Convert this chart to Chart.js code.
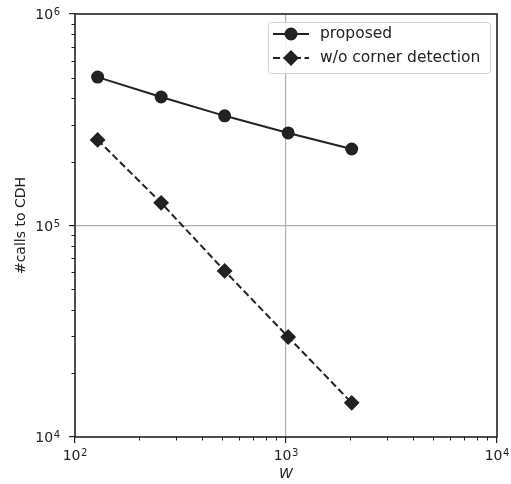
<!DOCTYPE html>
<html>
<head>
<meta charset="utf-8">
<script src="https://cdn.jsdelivr.net/npm/chart.js@4/dist/chart.umd.min.js"></script>
<style>
  html, body { margin: 0; padding: 0; background: #fff; }
  #wrap { width: 511px; height: 484px; }
</style>
</head>
<body>
<div id="wrap"><canvas id="chart"></canvas></div>
<script>
// Values
const windowSizes = [128, 256, 512, 1024, 2048];
const proposedCalls = [503000, 405000, 330000, 274000, 230000];
const noCornerCalls = [254000, 128000, 61000, 29700, 14500];
const seriesLabels = ['proposed', 'w/o corner detection'];
const xDecades = [100, 1000, 10000];
const yDecades = [10000, 100000, 1000000];

const ink = '#222222';
const font = 'DejaVu Sans';

function points(ys)
{
    return windowSizes.map((x, i) => ({ x: x, y: ys[i] }));
}

// Gray grid only on inner decades
function innerGrid(ctx)
{
    let s = ctx.scale;
    let v = ctx.tick ? ctx.tick.value : null;
    if (v === s.min || v === s.max) return 'rgba(0,0,0,0)';
    return '#b0b0b0';
}

// draw "10" with a raised exponent; align: 'center' or 'right'
function drawPower(c, value, x, baseline, align)
{
    let e = String(Math.round(Math.log10(value)));
    c.font = '14px "' + font + '"';
    let wBase = c.measureText('10').width;
    c.font = '10px "' + font + '"';
    let wExp = c.measureText(e).width;
    let total = wBase + 0.5 + wExp;
    let left = align === 'right' ? x - total : x - total / 2;
    c.textAlign = 'left';
    c.textBaseline = 'alphabetic';
    c.fillStyle = ink;
    c.font = '14px "' + font + '"';
    c.fillText('10', left, baseline);
    c.font = '10px "' + font + '"';
    c.fillText(e, left + wBase + 0.5, baseline - 4);
}

// Box, minor ticks, tick labels and legend
const framePlugin =
{
    id: 'frame',
    afterDraw(chart)
    {
        const c = chart.ctx;
        const a = chart.chartArea;
        const xs = chart.scales.x, ys = chart.scales.y;
        c.save();
        c.strokeStyle = ink;
        c.lineWidth = 1.6;
        c.strokeRect(a.left, a.top, a.right - a.left, a.bottom - a.top);

        // minor ticks
        c.lineWidth = 1;
        for (let d = 0; d < xDecades.length - 1; d++)
        {
            for (let k = 2; k < 10; k++)
            {
                let px = Math.round(xs.getPixelForValue(xDecades[d] * k)) + 0.5;
                c.beginPath(); c.moveTo(px, a.bottom); c.lineTo(px, a.bottom + 3.5); c.stroke();
            }
        }
        for (let d = 0; d < yDecades.length - 1; d++)
        {
            for (let k = 2; k < 10; k++)
            {
                let py = Math.round(ys.getPixelForValue(yDecades[d] * k)) + 0.5;
                c.beginPath(); c.moveTo(a.left, py); c.lineTo(a.left - 3.5, py); c.stroke();
            }
        }

        // tick labels
        xs.ticks.forEach(t => drawPower(c, t.value, xs.getPixelForValue(t.value), a.bottom + 23, 'center'));
        ys.ticks.forEach(t => drawPower(c, t.value, a.left - 15, ys.getPixelForValue(t.value) + 5, 'right'));

        // legend box
        const bx = 268, by = 22, bw = 222, bh = 51;
        c.fillStyle = 'rgba(255,255,255,0.85)';
        c.strokeStyle = '#d0d0d0';
        c.lineWidth = 1;
        c.beginPath();
        c.roundRect(bx + 0.5, by + 0.5, bw, bh, 3);
        c.fill(); c.stroke();

        chart.data.datasets.forEach((ds, i) =>
        {
            let y = 34 + i * 24;
            c.strokeStyle = ds.borderColor;
            c.lineWidth = ds.borderWidth;
            c.setLineDash(ds.borderDash || []);
            c.beginPath(); c.moveTo(273, y); c.lineTo(309, y); c.stroke();
            c.setLineDash([]);
            Chart.helpers.drawPoint(c, {
                pointStyle: ds.pointStyle,
                radius: ds.pointRadius,
                rotation: 0,
                borderWidth: 1
            }, 291, y);
            c.fillStyle = ink;
            c.fill();
            c.font = '15.5px "' + font + '"';
            c.textBaseline = 'middle';
            c.textAlign = 'left';
            c.fillText(ds.label, 320, y);
        });
        c.restore();
    }
};

new Chart(document.getElementById('chart'),
{
    type: 'line',
    plugins: [framePlugin],
    data:
    {
        datasets:
        [
            {
                label: seriesLabels[0],
                data: points(proposedCalls),
                borderColor: ink,
                backgroundColor: ink,
                borderWidth: 2,
                pointStyle: 'circle',
                pointRadius: 5.5,
                pointBackgroundColor: ink,
                pointBorderColor: ink
            },
            {
                label: seriesLabels[1],
                data: points(noCornerCalls),
                borderColor: ink,
                backgroundColor: ink,
                borderWidth: 2,
                borderDash: [7, 3.5],
                pointStyle: 'rectRot',
                pointRadius: 6.5,
                pointBackgroundColor: ink,
                pointBorderColor: ink
            }
        ]
    },
    options:
    {
        responsive: true,
        maintainAspectRatio: false,
        animation: false,
        layout: { padding: { top: 14, right: 14, left: 13, bottom: 0 } },
        plugins:
        {
            legend: { display: false },
            tooltip: { enabled: false }
        },
        scales:
        {
            x:
            {
                type: 'logarithmic',
                min: xDecades[0],
                max: xDecades[xDecades.length - 1],
                afterBuildTicks: (s) => { s.ticks = xDecades.map(v => ({ value: v, major: true })); },
                afterFit: (s) => { s.height = 47; },
                grid: { color: innerGrid, lineWidth: 1.2, tickColor: ink, tickLength: 6, drawTicks: true },
                border: { display: false },
                ticks: { display: false, autoSkip: false },
                title:
                {
                    display: true,
                    text: 'W',
                    color: ink,
                    padding: { top: 0, bottom: 1 },
                    font: { family: font, size: 14, style: 'italic' }
                }
            },
            y:
            {
                type: 'logarithmic',
                min: yDecades[0],
                max: yDecades[yDecades.length - 1],
                afterBuildTicks: (s) => { s.ticks = yDecades.map(v => ({ value: v, major: true })); },
                afterFit: (s) => { s.width = 62; },
                grid: { color: innerGrid, lineWidth: 1.2, tickColor: ink, tickLength: 6, drawTicks: true },
                border: { display: false },
                ticks: { display: false, autoSkip: false },
                title:
                {
                    display: true,
                    text: '#calls to CDH',
                    color: ink,
                    padding: { top: 0, bottom: 0 },
                    font: { family: font, size: 14 }
                }
            }
        }
    }
});
</script>
</body>
</html>
